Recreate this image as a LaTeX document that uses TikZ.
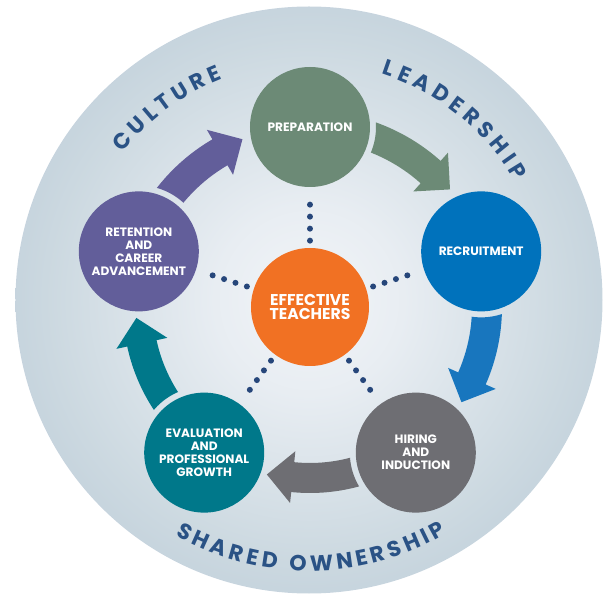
\documentclass[tikz,border=0pt]{standalone}
\usepackage{fontspec}
\setmainfont{Poppins}
\usetikzlibrary{calc,decorations.text}

\definecolor{prepgreen}{RGB}{108,138,118}
\definecolor{recruitblue}{RGB}{0,114,188}
\definecolor{recruitarrow}{RGB}{24,118,190}
\definecolor{hiringgray}{RGB}{110,110,115}
\definecolor{evalteal}{RGB}{0,120,138}
\definecolor{retentionpurple}{RGB}{98,94,154}
\definecolor{coreorange}{RGB}{241,113,35}
\definecolor{ringblue}{RGB}{42,82,133}
\definecolor{dotblue}{RGB}{38,70,122}

\pgfdeclareradialshading{ringglow}{\pgfpoint{0bp}{0bp}}{rgb(0bp)=(0.95,0.96,0.97); rgb(8bp)=(0.91,0.93,0.95); rgb(22bp)=(0.80,0.85,0.88); rgb(36bp)=(0.70,0.77,0.83); rgb(50bp)=(0.62,0.72,0.79)}

\newcommand{\ringfont}{\fontsize{12.5}{12.5}\selectfont\bfseries}

\tikzset{
  stage/.style={circle, minimum size=2.4cm, inner sep=0pt, text=white, align=center,
    font=\fontsize{6.9}{7.4}\selectfont\bfseries},
  spoke/.style={dotblue, line width=0.12cm, line cap=round, dash pattern=on 0pt off 0.24cm,
    shorten <=0.14cm, shorten >=0.11cm},
  ringtext/.style={decorate, decoration={text along path, text={|\ringfont|#1},
    text color=ringblue, text align={fit to path}}}
}

\begin{document}
\begin{tikzpicture}
\useasboundingbox (-6.2,-5.84) rectangle (5.92,6.14);

% backdrop
\coordinate (ringc) at (-0.02,0.14);
\shade[shading=ringglow] (ringc) circle (5.87);

% the five stages round the centre
\node[circle, minimum size=2.36cm, inner sep=0pt, fill=coreorange, text=white, align=center,
  font=\fontsize{8.9}{8.4}\selectfont\bfseries] (core) at (0,0) {EFFECTIVE\\TEACHERS};
\node[stage, fill=prepgreen] (prep) at (90:3.6) {PREPARATION};
\node[stage, fill=recruitblue] (recruit) at (18:3.6) {RECRUITMENT};
\node[stage, fill=hiringgray] (hiring) at (-54:3.6) {HIRING\\AND\\INDUCTION};
\node[stage, fill=evalteal] (evalgrowth) at (-126:3.6) {EVALUATION\\AND\\PROFESSIONAL\\GROWTH};
\node[stage, fill=retentionpurple] (retention) at (162:3.6) {RETENTION\\AND\\CAREER\\ADVANCEMENT};

% dotted spokes
\foreach \n in {prep,recruit,hiring,evalgrowth,retention}
  \draw[spoke] (core) -- (\n);

% curved arrows, cut free of the stage they leave
\foreach \src/\a/\r/\col in {prep/90/3.62/prepgreen, recruit/18/3.54/recruitarrow,
    hiring/-54/3.42/hiringgray, evalgrowth/-126/3.44/evalteal, retention/162/3.58/retentionpurple} {
  \pgfmathsetmacro\s{\a-10}
  \pgfmathsetmacro\b{\a-41.8}
  \pgfmathsetmacro\t{\b-90}
  \begin{scope}[even odd rule]
    \clip (-6.2,-5.84) rectangle (5.92,6.14) (\src) circle (1.32);
    \fill[\col] (\s:\r+0.3) arc[start angle=\s, end angle=\b, radius=\r+0.3] -- (\b:\r+0.52)
      -- ($(\b:\r)+(\t:0.52)$) -- (\b:\r-0.52) -- (\b:\r-0.3)
      arc[start angle=\b, end angle=\s, radius=\r-0.3] -- cycle;
  \end{scope}
}

% words round the ring
\path[ringtext=CULTURE] ($(ringc)+(141.6:4.75)$) arc[start angle=141.6, end angle=111.4, radius=4.75];
\path[ringtext=LEADERSHIP] ($(ringc)+(72.2:4.75)$) arc[start angle=72.2, end angle=29.9, radius=4.75];
\path[ringtext=SHARED OWNERSHIP] ($(ringc)+(-119.6:5.42)$) arc[start angle=-119.6, end angle=-59.5, radius=5.42];
\end{tikzpicture}
\end{document}
